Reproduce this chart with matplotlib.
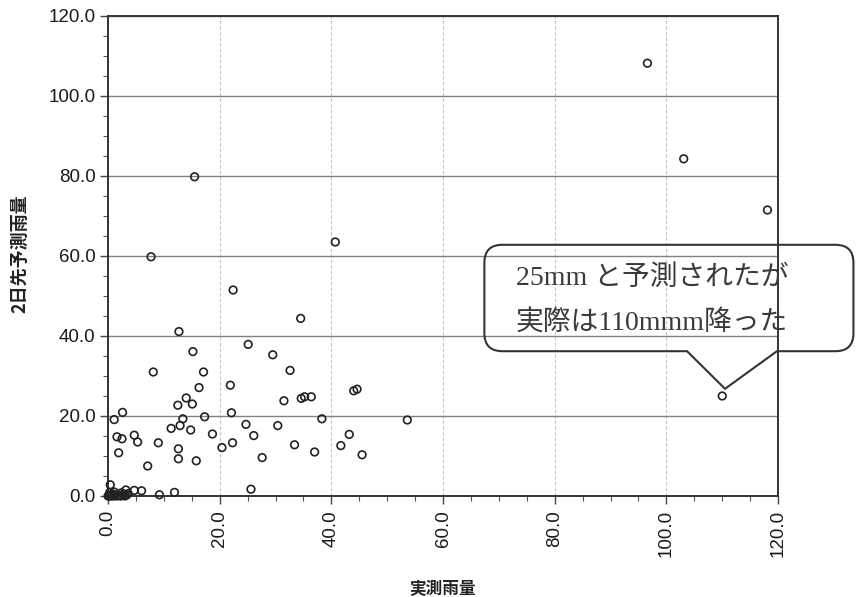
import matplotlib
matplotlib.use("Agg")
import matplotlib.pyplot as plt
from matplotlib.path import Path
from matplotlib.patches import PathPatch
from matplotlib.ticker import MultipleLocator

plt.rcParams['font.family'] = ['Liberation Sans', 'Noto Sans CJK JP', 'DejaVu Sans']

# Observed rainfall (x) and 2-day-ahead forecast rainfall (y), mm
observed = [
    22.4, 12.7, 25.1, 29.5, 15.2, 8.1, 17.1, 16.3, 21.9, 31.5,
    14.0, 12.5, 15.1, 17.3, 22.1, 13.4, 12.9, 11.3, 14.8, 24.7,
    30.4, 26.1, 18.7, 2.6, 1.1, 1.6, 2.5, 4.7, 5.3, 9.0,
    1.9, 12.6, 12.6, 15.8, 20.4, 22.3, 27.6, 7.1, 25.6, 9.2,
    11.9, 6.0, 4.7, 3.2, 0.4,
    34.5, 32.6, 34.6, 35.2, 36.4, 44.0, 44.6, 38.3, 53.6, 43.2,
    41.7, 33.4, 37.0, 45.5,
    15.5, 7.7, 40.7, 96.6, 103.1, 118.1,
    0.0, 0.2, 0.4, 0.6, 0.8, 1.0, 1.3, 1.6, 2.0, 2.3,
    2.7, 3.0, 3.3, 0.3, 1.1, 2.4, 3.6,
]
forecast = [
    51.5, 41.1, 37.9, 35.3, 36.1, 31.0, 31.0, 27.1, 27.7, 23.8,
    24.5, 22.7, 23.0, 19.8, 20.8, 19.3, 17.6, 16.9, 16.5, 17.9,
    17.6, 15.1, 15.5, 20.9, 19.1, 14.8, 14.3, 15.2, 13.5, 13.3,
    10.8, 11.8, 9.3, 8.8, 12.1, 13.3, 9.6, 7.5, 1.7, 0.3,
    0.9, 1.3, 1.4, 1.5, 2.8,
    44.4, 31.4, 24.4, 24.8, 24.8, 26.3, 26.7, 19.3, 19.0, 15.4,
    12.6, 12.8, 11.0, 10.3,
    79.8, 59.8, 63.5, 108.2, 84.3, 71.5,
    0.0, 0.0, 0.2, 0.0, 0.5, 0.0, 0.3, 0.0, 0.2, 0.0,
    0.4, 0.0, 0.2, 0.9, 1.0, 0.8, 0.6,
]

# The case singled out by the speech bubble
note_forecast = 25
note_observed = 110

x_label = "実測雨量"
y_label = "2日先予測雨量"
tick_values = [0, 20, 40, 60, 80, 100, 120]
tick_labels = ["0.0", "20.0", "40.0", "60.0", "80.0", "100.0", "120.0"]
note_lines = [f"{note_forecast}mm と予測されたが", f"実際は{note_observed}mmm降った"]

fig = plt.figure(figsize=(8.65, 5.97), dpi=100)
ax = fig.add_axes([0.1249, 0.1692, 0.7746, 0.8040])

ax.scatter(observed + [note_observed], forecast + [note_forecast], s=30,
           facecolors='none', edgecolors='#222222', linewidths=1.2,
           zorder=3, clip_on=False)

ax.set_xlim(0, 120)
ax.set_ylim(0, 120)
ax.set_xticks(tick_values)
ax.set_xticklabels(tick_labels, rotation=90)
ax.set_yticks(tick_values)
ax.set_yticklabels(tick_labels)
ax.xaxis.set_minor_locator(MultipleLocator(5))
ax.yaxis.set_minor_locator(MultipleLocator(5))

ax.tick_params(axis='both', which='major', direction='out', length=6,
               width=1.0, color='#444444', labelsize=13.5, labelcolor='#1a1a1a')
ax.tick_params(axis='both', which='minor', direction='out', length=3.5,
               width=0.8, color='#555555')
ax.tick_params(axis='x', which='major', pad=4)
ax.tick_params(axis='y', which='major', pad=3)

ax.set_axisbelow(True)
ax.yaxis.grid(True, which='major', color='#808080', linewidth=1.0)
ax.xaxis.grid(True, which='major', color='#c4c4c4', linewidth=0.8,
              linestyle=(0, (3, 2)))

for side in ('left', 'bottom', 'right', 'top'):
    ax.spines[side].set_color('#333333')
    ax.spines[side].set_linewidth(1.4)

ax.set_xlabel(x_label, family=['Noto Sans CJK JP'], fontsize=12,
              fontweight='bold', color='#222222')
ax.set_ylabel(y_label, family=['Noto Sans CJK JP'], fontsize=13,
              fontweight='bold', color='#222222')
ax.xaxis.set_label_coords(0.5, -0.175)
ax.yaxis.set_label_coords(-0.118, 0.505)

# Speech bubble drawn in data space, corners scaled so they look round
fig_w, fig_h = fig.get_size_inches() * fig.dpi
pos = ax.get_position()
px_per_x = pos.width * fig_w / 120.0
px_per_y = pos.height * fig_h / 120.0
r = 18.0
rx, ry = r / px_per_x, r / px_per_y

x0, x1, yb, yt = 67.4, 133.5, 36.2, 62.8
tip_x, tip_y = note_observed + 0.5, note_forecast + 1.8
base_l, base_r = tip_x - 6.8, tip_x + 9.3

verts = [
    (x0 + rx, yt), (x1 - rx, yt),
    (x1, yt), (x1, yt - ry),
    (x1, yb + ry),
    (x1, yb), (x1 - rx, yb),
    (base_r, yb), (tip_x, tip_y), (base_l, yb),
    (x0 + rx, yb),
    (x0, yb), (x0, yb + ry),
    (x0, yt - ry),
    (x0, yt), (x0 + rx, yt),
    (x0 + rx, yt),
]
codes = [
    Path.MOVETO, Path.LINETO,
    Path.CURVE3, Path.CURVE3,
    Path.LINETO,
    Path.CURVE3, Path.CURVE3,
    Path.LINETO, Path.LINETO, Path.LINETO,
    Path.LINETO,
    Path.CURVE3, Path.CURVE3,
    Path.LINETO,
    Path.CURVE3, Path.CURVE3,
    Path.CLOSEPOLY,
]
bubble = PathPatch(Path(verts, codes), facecolor='none', edgecolor='#333333',
                   linewidth=1.5, clip_on=False, zorder=4)
ax.add_patch(bubble)

note_font = ['Liberation Serif', 'Noto Sans CJK JP']
ax.text(73.0, 54.6, note_lines[0], ha='left', va='center', fontsize=20,
        family=note_font, color='#3a3a3a', clip_on=False, zorder=5)
ax.text(73.0, 43.3, note_lines[1], ha='left', va='center', fontsize=20,
        family=note_font, color='#3a3a3a', clip_on=False, zorder=5)

fig.savefig('out.png', dpi=100)
